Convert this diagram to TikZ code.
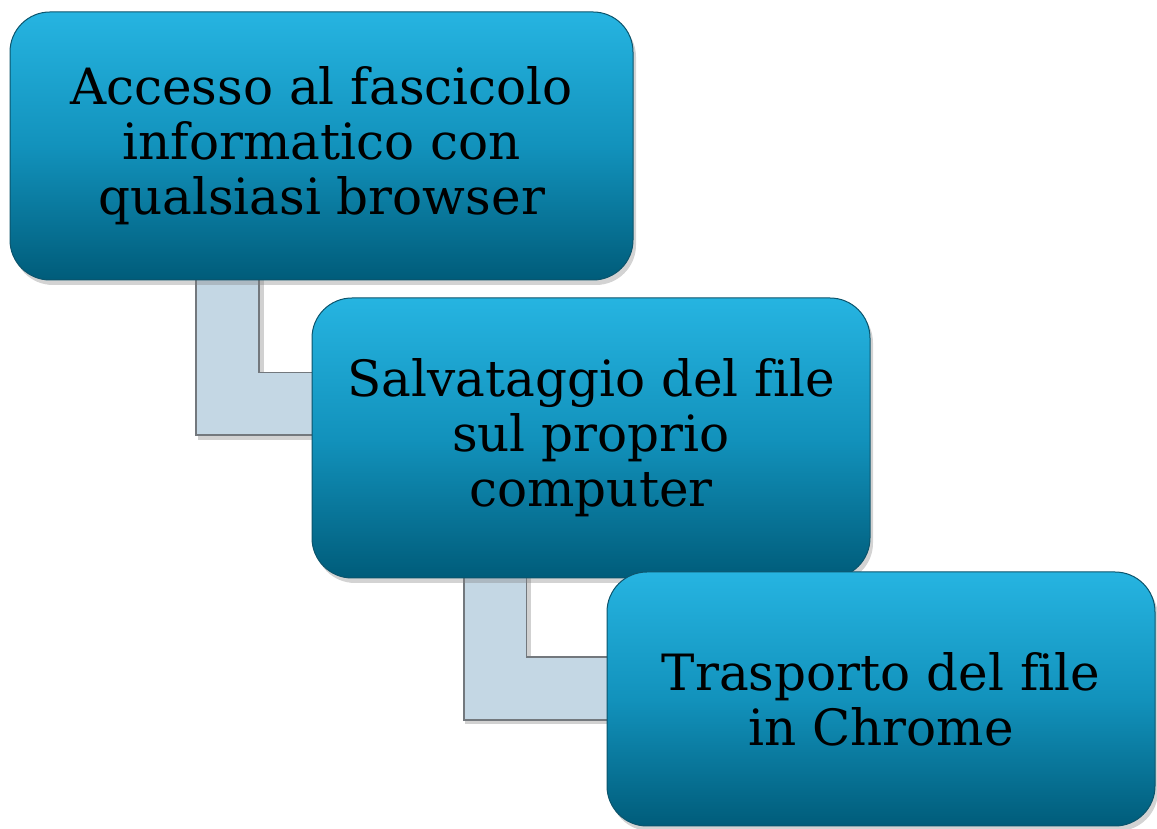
\documentclass[tikz,border=0pt]{standalone}
\usepackage{fontspec}
\setmainfont[Ligatures=NoCommon]{DejaVu Serif}
\usetikzlibrary{shadows,calc}
\definecolor{boxtop}{RGB}{38,180,225}
\definecolor{boxmid}{RGB}{18,146,188}
\definecolor{boxbot}{RGB}{0,92,122}
\definecolor{boxline}{RGB}{12,84,108}
\definecolor{connfill}{RGB}{196,215,228}
\definecolor{connline}{RGB}{115,120,125}
\tikzset{
  stepbox/.style={rounded corners=40pt, draw=boxline, line width=1pt,
    top color=boxtop, bottom color=boxbot, middle color=boxmid,
    drop shadow={opacity=0.35, shadow xshift=3pt, shadow yshift=-5pt},
    align=center, text=black, inner sep=0pt,
    font=\fontsize{50}{55}\selectfont},
  connshadow/.style={line width=66pt, draw=black, opacity=0.18, line join=miter},
  conn/.style={draw=connline, line width=1.6pt, double=connfill, double distance=61pt, line join=miter}
}
\begin{document}
\begin{tikzpicture}[x=1pt,y=1pt]
\useasboundingbox (0,0) rectangle (1157,829);
\coordinate (k1) at (227.5,425);
\coordinate (k2) at (495,140.5);
\path (321.5,683) coordinate (p1);
\path (591,391) coordinate (p2);
\path (881,130) coordinate (p3);
% connectors (behind boxes)
\draw[connshadow] ($(k1 |- p1)+(3,0)$) -- ($(k1)+(3,-3)$) -- ($(k1 -| p2)+(3,-3)$);
\draw[conn] (k1 |- p1) -- (k1) -- (k1 -| p2);
\draw[connshadow] ($(k2 |- p2)+(3,0)$) -- ($(k2)+(3,-3)$) -- ($(k2 -| p3)+(3,-3)$);
\draw[conn] (k2 |- p2) -- (k2) -- (k2 -| p3);
% boxes
\node[stepbox, minimum width=623pt, minimum height=268pt] (b1) at (p1)
  {Accesso al fascicolo\\informatico con\\qualsiasi browser};
\node[stepbox, minimum width=558pt, minimum height=280pt] (b2) at (p2)
  {Salvataggio del file\\sul proprio\\computer};
\node[stepbox, minimum width=548pt, minimum height=254pt] (b3) at (p3)
  {Trasporto del file\\in Chrome};
\end{tikzpicture}
\end{document}
